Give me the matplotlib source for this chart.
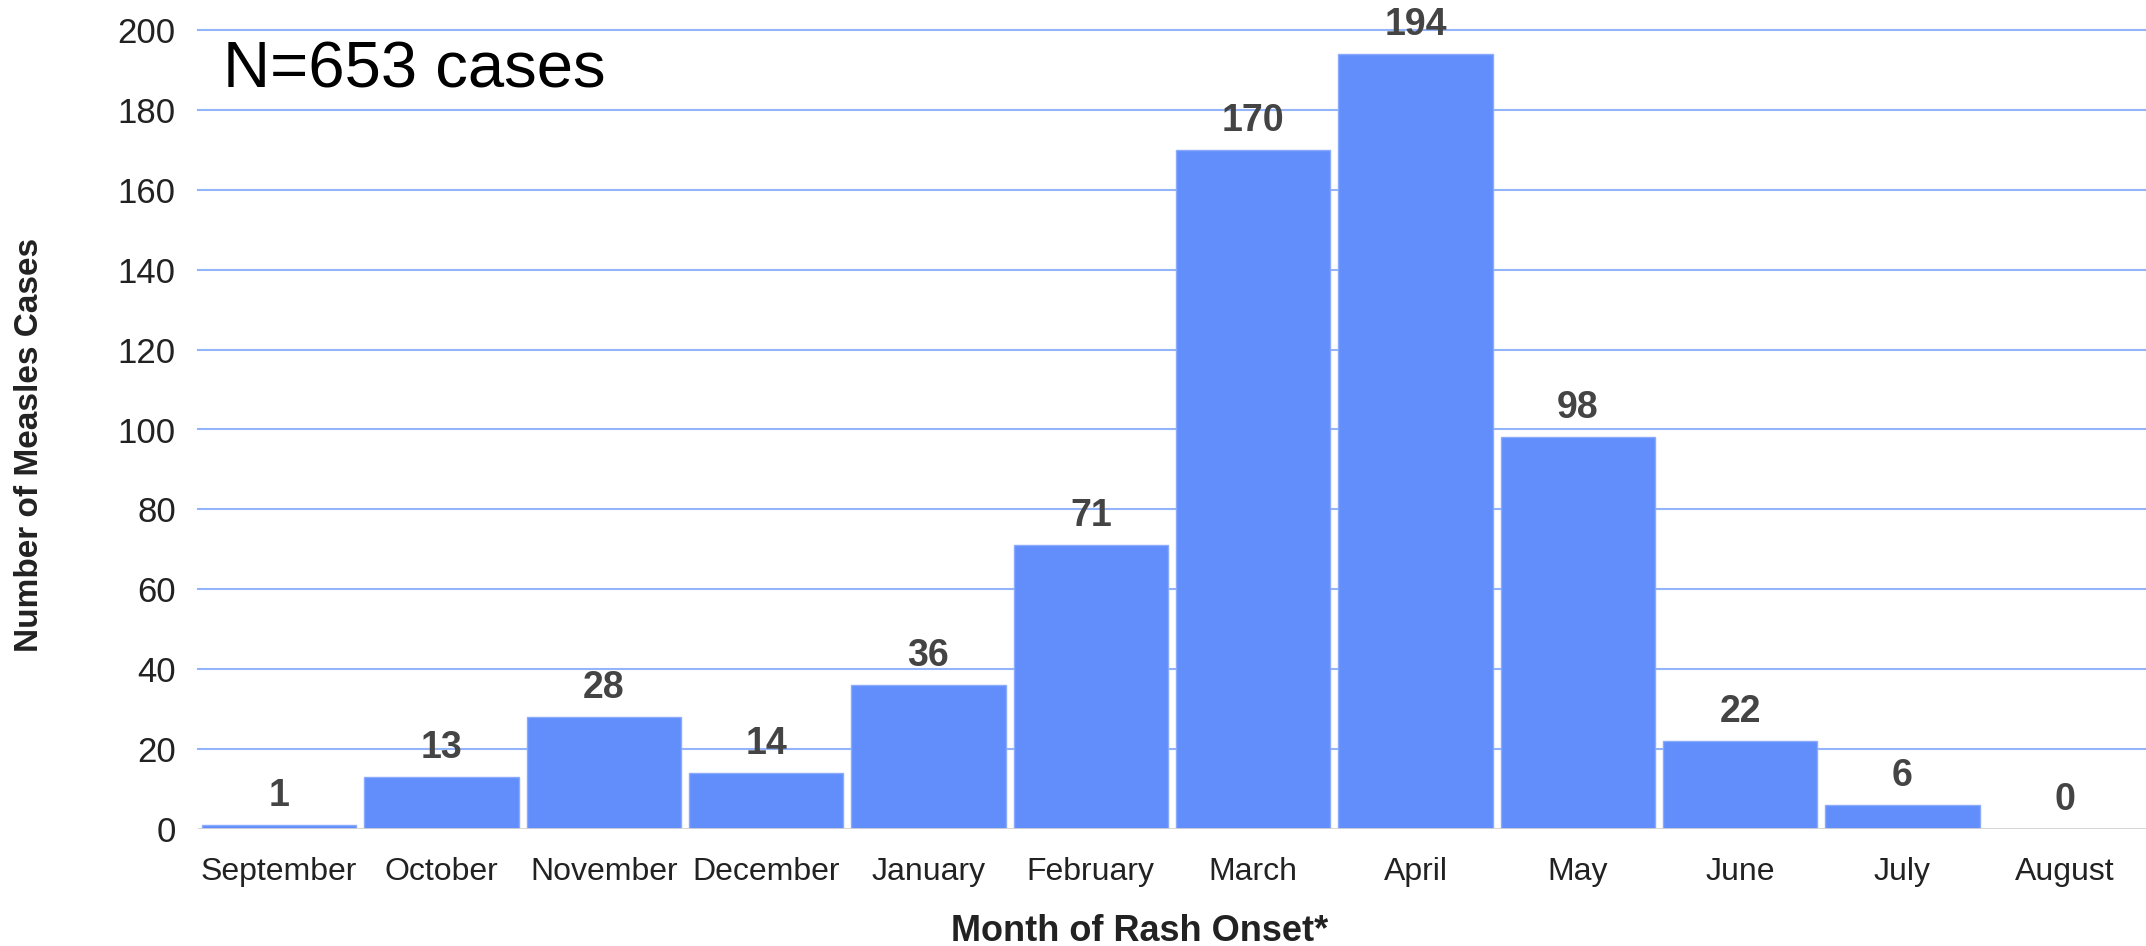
import matplotlib.pyplot as plt

# data
months = ["September", "October", "November", "December", "January", "February",
          "March", "April", "May", "June", "July", "August"]
cases = [1, 13, 28, 14, 36, 71, 170, 194, 98, 22, 6, 0]
y_ticks = list(range(0, 201, 20))

W, H = 2146, 946
fig = plt.figure(figsize=(W / 100, H / 100), dpi=100)

# axes placed in pixel terms
left, right, top, bottom = 198, 2146, 30, 829
ax = fig.add_axes([left / W, 1 - bottom / H, (right - left) / W, (bottom - top) / H])

x = list(range(len(months)))
ax.bar(x, cases, width=0.95, color="#628efc", edgecolor="#8aabfd", linewidth=1, zorder=3)

# value labels above bars
for xi, v in zip(x, cases):
    ax.annotate(str(v), (xi, v), xytext=(0, 8), textcoords="offset points",
                ha="center", va="bottom", fontsize=27, fontweight="bold",
                color="#444444", family=["Liberation Sans", "DejaVu Sans"],
                annotation_clip=False)

ax.set_xlim(-0.5, len(months) - 0.5)
ax.set_ylim(0, 200)
ax.set_yticks(y_ticks)
ax.set_xticks(x)
ax.set_xticklabels(months)

# gridlines
for yv in y_ticks[1:]:
    ax.axhline(yv, color="#94b4fa", linewidth=1.5, zorder=1, clip_on=False)
ax.axhline(0, color="#d4d4d4", linewidth=2, zorder=4)

for s in ax.spines.values():
    s.set_visible(False)
ax.tick_params(axis="both", length=0)
ax.tick_params(axis="y", pad=16)
ax.tick_params(axis="x", pad=20)
for t in ax.get_yticklabels():
    t.set_family(["Liberation Sans Narrow", "Liberation Sans"])
    t.set_fontsize(25)
    t.set_color("#222222")
for t in ax.get_xticklabels():
    t.set_family(["Liberation Sans", "DejaVu Sans"])
    t.set_fontsize(23)
    t.set_color("#222222")

# annotation in the corner
fig.text(223 / W, 1 - 70 / H, "N=653 cases",
         fontsize=47, va="center", ha="left", color="black",
         family=["Liberation Sans Narrow", "Liberation Sans"])

# axis titles
fig.text(1140 / W, 1 - 931 / H, "Month of Rash Onset*", ha="center", va="center",
         fontsize=26, fontweight="bold", color="#222222",
         family=["Liberation Sans", "DejaVu Sans"])
fig.text(30 / W, 1 - 445 / H, "Number of Measles Cases", ha="center", va="center",
         rotation=90, fontsize=24, fontweight="bold", color="#222222",
         family=["Liberation Sans", "DejaVu Sans"])

plt.savefig("out.png", dpi=100)
